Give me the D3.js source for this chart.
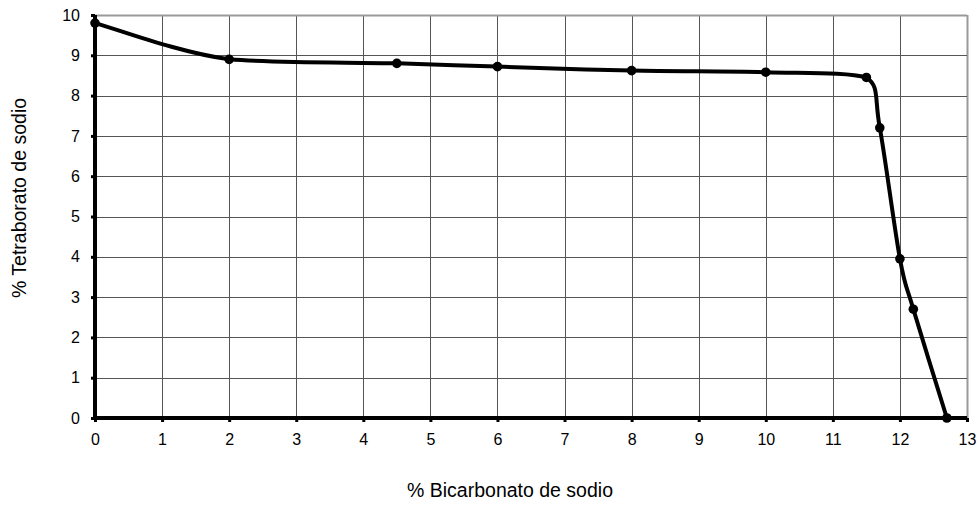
<!DOCTYPE html>
<html><head><meta charset="utf-8">
<script src="https://cdn.jsdelivr.net/npm/d3@7"></script>
<style>body{margin:0;background:#fff}svg{display:block}text{font-family:"Liberation Sans",Arial,sans-serif}</style>
</head><body>
<svg id="c" width="979" height="505"></svg>
<script>
const xValues = [0, 2, 4.5, 6, 8, 10, 11.5, 11.7, 12, 12.2, 12.7];
const yValues = [9.8, 8.9, 8.8, 8.72, 8.62, 8.58, 8.45, 7.2, 3.95, 2.7, 0];
const xTicks = d3.range(0, 14);
const yTicks = d3.range(0, 11);
const xTitle = "% Bicarbonato de sodio";
const yTitle = "% Tetraborato de sodio";

const svg = d3.select("#c");
const x = d3.scaleLinear().domain([0, 13]).range([95, 967]);
const y = d3.scaleLinear().domain([0, 10]).range([418, 15]);

// grid
svg.append("g").selectAll("line").data(xTicks.slice(1)).join("line")
  .attr("x1", d => Math.round(x(d)) + 0.5).attr("x2", d => Math.round(x(d)) + 0.5).attr("y1", y(10)).attr("y2", y(0))
  .attr("stroke", d => d === 13 ? "#999" : "#555").attr("stroke-width", d => d === 13 ? 2 : 1);
svg.append("g").selectAll("line").data(yTicks.slice(1)).join("line")
  .attr("x1", x(0)).attr("x2", x(13)).attr("y1", d => Math.round(y(d)) + 0.5).attr("y2", d => Math.round(y(d)) + 0.5)
  .attr("stroke", d => d === 10 ? "#999" : "#555").attr("stroke-width", d => d === 10 ? 2 : 1);

// axes
const xa = svg.append("g").attr("transform", `translate(0,${y(0)})`)
  .call(d3.axisBottom(x).tickValues(xTicks).tickSize(4).tickPadding(12).tickFormat(d3.format("d")));
const ya = svg.append("g").attr("transform", `translate(${x(0)},0)`)
  .call(d3.axisLeft(y).tickValues(yTicks).tickSize(4).tickPadding(11).tickFormat(d3.format("d")));
[xa, ya].forEach(a => {
  a.select(".domain").attr("stroke", "#000").attr("stroke-width", 4);
  a.selectAll(".tick line").attr("stroke", "#000").attr("stroke-width", 3);
  a.selectAll(".tick text").attr("font-size", 16).attr("fill", "#000").style("font-family", '"Liberation Sans",Arial,sans-serif');
});
xa.select(".domain").attr("d", `M${x(0)},0H${x(13)}`);
ya.select(".domain").attr("d", `M0,${y(10)}V${y(0)}`);

// smoothed line (Catmull-Rom style Bezier with control points clamped to each segment's box)
const pts = xValues.map((v, i) => [x(v), y(yValues[i])]);
const clamp = (v, a, b) => Math.max(Math.min(a, b), Math.min(Math.max(a, b), v));
const p = d3.path();
p.moveTo(pts[0][0], pts[0][1]);
for (let i = 0; i < pts.length - 1; i++) {
  const p0 = pts[Math.max(i - 1, 0)], p1 = pts[i], p2 = pts[i + 1], p3 = pts[Math.min(i + 2, pts.length - 1)];
  let c1 = [p1[0] + (p2[0] - p0[0]) / 6, p1[1] + (p2[1] - p0[1]) / 6];
  let c2 = [p2[0] - (p3[0] - p1[0]) / 6, p2[1] - (p3[1] - p1[1]) / 6];
  c1 = [clamp(c1[0], p1[0], p2[0]), clamp(c1[1], p1[1], p2[1])];
  c2 = [clamp(c2[0], p1[0], p2[0]), clamp(c2[1], p1[1], p2[1])];
  p.bezierCurveTo(c1[0], c1[1], c2[0], c2[1], p2[0], p2[1]);
}
svg.append("path").attr("d", p.toString()).attr("fill", "none")
  .attr("stroke", "#000").attr("stroke-width", 4).attr("stroke-linejoin", "round");
svg.append("g").selectAll("circle").data(pts).join("circle")
  .attr("cx", d => d[0]).attr("cy", d => d[1]).attr("r", 4.8).attr("fill", "#000");

svg.append("text").attr("x", 510).attr("y", 497).attr("text-anchor", "middle")
  .attr("font-size", 19.5).text(xTitle);
svg.append("text").attr("transform", "translate(26,198) rotate(-90)").attr("text-anchor", "middle")
  .attr("font-size", 19.5).text(yTitle);
</script>
</body></html>
